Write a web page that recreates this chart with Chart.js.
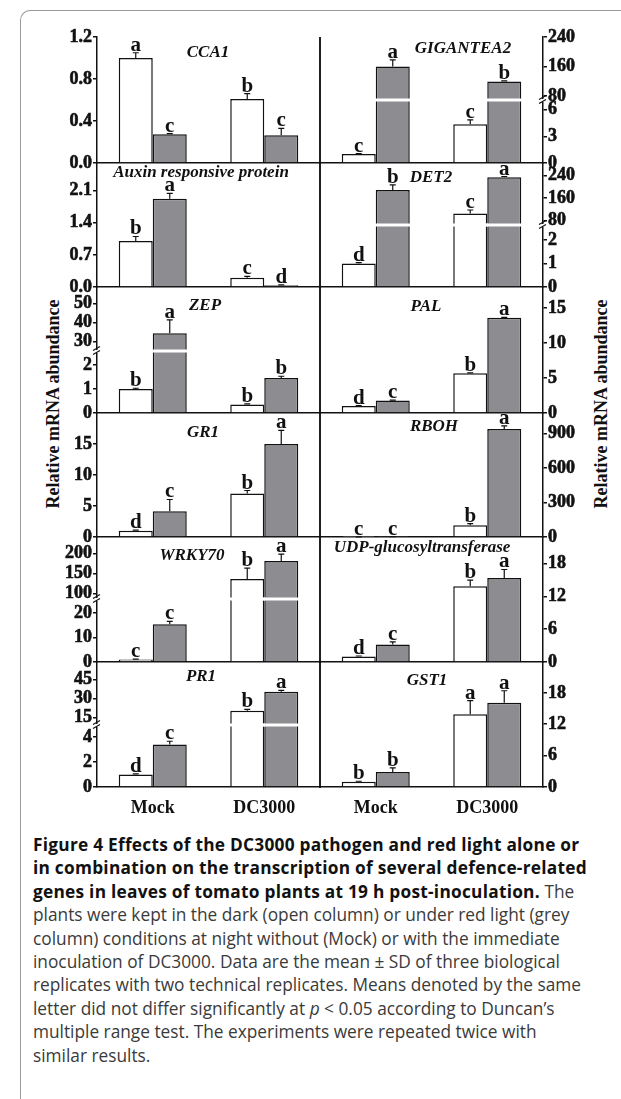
<!DOCTYPE html>
<html><head><meta charset="utf-8">
<script src="https://cdn.jsdelivr.net/npm/chart.js@4.4.1/dist/chart.umd.min.js"></script>
<style>
html,body{margin:0;padding:0;background:#fff;}
body{width:621px;height:1099px;position:relative;overflow:hidden;}
canvas.panel{position:absolute;left:0;}
.frame{position:absolute;left:20px;top:10px;width:700px;height:1200px;border-left:1px solid #999;border-top:1px solid #999;border-top-left-radius:10px;}
.ytitle{position:absolute;font:bold 18px "Liberation Serif",serif;color:#111;white-space:nowrap;transform:translate(-50%,-50%) rotate(-90deg);}
.caption{position:absolute;left:33px;top:833px;font:17.3px/23.4px "Open Sans",sans-serif;color:#3a3a3a;white-space:nowrap;}
.caption b{color:#111;letter-spacing:0.25px;}
</style></head><body>
<div class="frame"></div>
<div class="ytitle" style="left:53px;top:404px;">Relative mRNA abundance</div>
<div class="ytitle" style="left:601px;top:404px;">Relative mRNA abundance</div>
<div class="caption"><b>Figure 4 Effects of the DC3000 pathogen and red light alone or<br>in combination on the transcription of several defence-related<br>genes in leaves of tomato plants at 19 h post-inoculation.</b> The<br>plants were kept in the dark (open column) or under red light (grey<br>column) conditions at night without (Mock) or with the immediate<br>inoculation of DC3000. Data are the mean ± SD of three biological<br>replicates with two technical replicates. Means denoted by the same<br>letter did not differ significantly at <i>p</i> &lt; 0.05 according to Duncan’s<br>multiple range test. The experiments were repeated twice with<br>similar results.</div>
<script>
// ---------- DATA ----------
const categories = ['Mock', 'DC3000'];
const genes = ['CCA1', 'GIGANTEA2', 'Auxin responsive protein', 'DET2', 'ZEP', 'PAL',
  'GR1', 'RBOH', 'WRKY70', 'UDP-glucosyltransferase', 'PR1', 'GST1'];
// open column (dark)
const darkMean = [[1.00,0.61],[1.0,4.35],[1.0,0.20],[1.0,106],[1.0,0.35],[1.0,5.67],
  [1.0,7.0],[1.0,102],[1.0,135.8],[1.0,13.9],[1.0,20.2],[1.0,13.9]];
const darkSD = [[0.05,0.05],[0.05,0.5],[0.1,0.03],[0.03,12],[0.03,0.03],[0.05,0.05],
  [0.1,0.5],[0.3,15],[0.2,27],[0.1,1.1],[0.05,1.1],[0.1,2.6]];
// grey column (red light)
const redMean = [[0.275,0.265],[160,119],[1.92,0.04],[189,234],[34.4,1.46],[1.8,13.6],
  [4.15,15.0],[2,939],[15.4,180.8],[3.19,15.4],[3.4,35.2],[2.87,16.1]];
const redSD = [[0.005,0.065],[18,2],[0.12,0.005],[18,3],[7,0.07],[0.05,0.05],
  [1.9,2.2],[0.5,26],[1.2,17],[0.48,1.55],[0.26,1.1],[0.77,2.3]];
const darkLetters = [['a','b'],['c','c'],['b','c'],['d','c'],['b','b'],['d','b'],
  ['d','b'],['c','b'],['c','b'],['d','b'],['d','b'],['b','a']];
const redLetters = [['c','c'],['a','b'],['a','d'],['b','a'],['a','b'],['c','a'],
  ['c','a'],['c','a'],['c','a'],['c','a'],['c','a'],['b','a']];
const tickLabels = [['0.0','0.4','0.8','1.2'],['0','3','6','80','160','240'],
  ['0.0','0.7','1.4','2.1'],['0','1','2','80','160','240'],['0','1','2','30','40','50'],
  ['0','5','10','15'],['0','5','10','15'],['0','300','600','900'],
  ['0','10','20','100','150','200'],['0','6','12','18'],['0','2','4','15','30','45'],['0','6','12','18']];
const axisMax = [1.2, 240, 2.7, 285, 58.5, 18, 20, 1077, 240.75, 22.9, 58.65, 23.9];
const axisBreaks = [null, {low:7.08, high:69, frac:0.5}, null, {low:2.63, high:64.7, frac:0.5},
  {low:2.58, high:25.2, frac:0.492}, null, null, null, {low:25.7, high:85.75, frac:0.504},
  null, {low:4.96, high:8.9, frac:0.496}, null];

// ---------- LAYOUT ----------
const rowTop = [37,163,287,413,537,662];
const rowBottom = [163,287,413,537,662,787];
const colLeft = [97,320], colRight = [320,543];
const titlePos = [[208,53],[463,49],[201,173],[431,178],[205,306],[426,307],
  [203,433],[434,427],[192,556],[422,548],[201,677],[427,681]];
const INK = '#111';
const GREY = '#8d8d91';
const SERIF = '"Liberation Serif", "Times New Roman", serif';
const PADT = 30, PADB = 45, YW = 60, XH = 40;

Chart.defaults.font.family = SERIF;
Chart.defaults.font.weight = 'bold';
Chart.defaults.font.size = 18;
Chart.defaults.color = INK;

// ---------- broken (piecewise linear) scale ----------
const LinearScale = Chart.LinearScale || Chart.registry.getScale('linear');
class BrokenScale extends LinearScale {
  getPixelForValue(value) {
    const b = this.options.brk;
    if (!b) return super.getPixelForValue(value);
    if (value === null || value === undefined || isNaN(value)) return NaN;
    const h = this.bottom - this.top, lowH = b.frac * h;
    if (value <= b.low) return this.bottom - (value - this.min) / (b.low - this.min) * lowH;
    const v = Math.max(value, b.high);
    return this.bottom - lowH - (v - b.high) / (this.max - b.high) * (h - lowH);
  }
  getValueForPixel(pixel) {
    const b = this.options.brk;
    if (!b) return super.getValueForPixel(pixel);
    const h = this.bottom - this.top, lowH = b.frac * h;
    const d = this.bottom - pixel;
    if (d <= lowH) return this.min + d / lowH * (b.low - this.min);
    return b.high + (d - lowH) / (h - lowH) * (this.max - b.high);
  }
}
BrokenScale.id = 'broken';
BrokenScale.defaults = {};
Chart.register(BrokenScale);

function decor(i) {
  return {
    id: 'decor' + i,
    afterDatasetsDraw(chart) {
      const ctx = chart.ctx, ys = chart.scales.y, area = chart.chartArea;
      const brk = axisBreaks[i], col = i % 2, row = Math.floor(i / 2);
      const offY = rowTop[row] - PADT;
      ctx.save();
      // column divider
      ctx.strokeStyle = INK; ctx.lineWidth = 1.5;
      const dx = col === 0 ? area.right : area.left;
      ctx.beginPath(); ctx.moveTo(dx, area.top); ctx.lineTo(dx, area.bottom + 0.75); ctx.stroke();
      // break gaps
      if (brk) {
        const by = ys.getPixelForValue(brk.low);
        chart.data.datasets.forEach((ds, d) => {
          chart.getDatasetMeta(d).data.forEach((el, j) => {
            if (ds.data[j] > brk.low) {
              ctx.fillStyle = '#fff';
              ctx.fillRect(el.x - el.width / 2 - 1, by - 1.5, el.width + 2, 3);
            }
          });
        });
        const ax = col === 0 ? area.left : area.right;
        ctx.fillStyle = '#fff';
        ctx.fillRect(ax - 2, by - 1, 4, 3);
        ctx.strokeStyle = INK; ctx.lineWidth = 1.2;
        ctx.beginPath();
        ctx.moveTo(ax - 4, by - 0.5); ctx.lineTo(ax + 3, by - 4.5);
        ctx.moveTo(ax - 4, by + 3.5); ctx.lineTo(ax + 3, by - 0.5);
        ctx.stroke();
      }
      // error bars and letters
      ctx.font = 'bold 21px ' + SERIF;
      ctx.textAlign = 'center'; ctx.textBaseline = 'alphabetic';
      chart.data.datasets.forEach((ds, d) => {
        chart.getDatasetMeta(d).data.forEach((el, j) => {
          const top = ys.getPixelForValue(ds.data[j] + ds.sd[j]);
          ctx.strokeStyle = INK; ctx.lineWidth = 1.2;
          ctx.beginPath();
          ctx.moveTo(el.x, el.y); ctx.lineTo(el.x, top);
          ctx.moveTo(el.x - 3, top); ctx.lineTo(el.x + 3, top);
          ctx.stroke();
          ctx.fillStyle = INK;
          ctx.fillText(ds.letters[j], el.x, Math.min(top, el.y) - 2);
        });
      });
      // gene title
      ctx.font = 'italic bold 17px ' + SERIF;
      ctx.textBaseline = 'middle';
      ctx.fillText(genes[i], titlePos[i][0], titlePos[i][1] - offY);
      ctx.restore();
    }
  };
}

for (let i = 0; i < genes.length; i++) {
  const col = i % 2, row = Math.floor(i / 2);
  const h = rowBottom[row] - rowTop[row];
  const bottomRow = row === 5;
  const cv = document.createElement('canvas');
  cv.className = 'panel';
  cv.width = 621; cv.height = h + PADT + PADB;
  cv.style.top = (rowTop[row] - PADT) + 'px';
  cv.style.width = '621px'; cv.style.height = cv.height + 'px';
  document.body.appendChild(cv);
  const labels = tickLabels[i];
  const xh = bottomRow ? XH : 0;
  const yScale = {
    type: axisBreaks[i] ? 'broken' : 'linear',
    position: col === 0 ? 'left' : 'right',
    min: 0, max: axisMax[i],
    brk: axisBreaks[i],
    afterBuildTicks: (s) => { s.ticks = labels.map(l => ({ value: parseFloat(l) })); },
    afterFit: (s) => { s.width = YW; },
    grid: { display: true, drawOnChartArea: false, drawTicks: true, tickLength: 4, color: INK, lineWidth: 1.5 },
    border: { display: true, color: INK, width: 1.5 },
    ticks: { autoSkip: false, padding: 1, color: INK,
      textStrokeColor: INK, textStrokeWidth: 0.6,
      font: { family: SERIF, weight: 'bold', size: 18 },
      callback: (v, idx) => labels[idx] }
  };
  new Chart(cv, {
    type: 'bar',
    data: {
      labels: categories,
      datasets: [
        { label: 'Dark', data: darkMean[i], sd: darkSD[i], letters: darkLetters[i],
          backgroundColor: '#fff', borderColor: INK, borderWidth: 1.5 },
        { label: 'Red light', data: redMean[i], sd: redSD[i], letters: redLetters[i],
          backgroundColor: GREY, borderColor: INK, borderWidth: 1.5 }
      ]
    },
    options: {
      responsive: false, animation: false, devicePixelRatio: 1,
      categoryPercentage: 0.61, barPercentage: 1.0,
      layout: { padding: col === 0
        ? { left: colLeft[0] - YW, right: 621 - colRight[0], top: PADT, bottom: PADB - xh }
        : { left: colLeft[1], right: 621 - colRight[1] - YW, top: PADT, bottom: PADB - xh } },
      plugins: { legend: { display: false }, tooltip: { enabled: false }, title: { display: false } },
      scales: {
        x: {
          type: 'category', offset: true,
          afterFit: (s) => { s.height = xh; },
          grid: { display: true, drawOnChartArea: false, drawTicks: false },
          border: { display: true, color: INK, width: 1.5 },
          ticks: { display: bottomRow, padding: 11, color: INK, maxRotation: 0, autoSkip: false,
            font: { family: SERIF, weight: 'bold', size: 18 } }
        },
        y: yScale
      }
    },
    plugins: [decor(i)]
  });
}
</script>
</body></html>
